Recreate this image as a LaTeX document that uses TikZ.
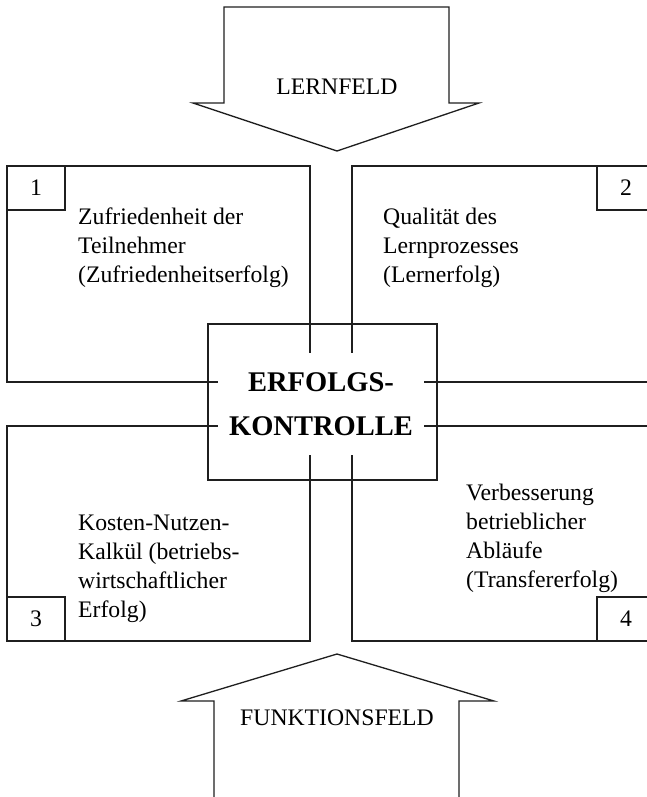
\documentclass[tikz,border=0pt]{standalone}
\usepackage{fontspec}
\setmainfont{Liberation Serif}
\begin{document}
\begin{tikzpicture}[x=1pt,y=-1pt,
  frame/.style={draw=black!88, line width=1.3pt, line join=miter},
  box/.style={frame, rectangle, inner sep=0pt, outer sep=0pt, anchor=north west},
  numbox/.style={frame, rectangle, inner sep=0pt, outer sep=0pt, minimum width=58pt, minimum height=44pt, font=\fontsize{23.7}{29}\selectfont},
  body/.style={font=\fontsize{23.7}{29}\selectfont, align=left, inner sep=0pt, anchor=west},
  lbl/.style={font=\fontsize{23.7}{29}\selectfont, inner sep=0pt}]
\useasboundingbox (0,0) rectangle (647,797);
\clip (0,0) rectangle (647,797);
\fill[white] (0,0) rectangle (647,797);

% top arrow
\draw[frame] (224,7) -- (449,7) -- (449,103) -- (479,103) -- (337,151) -- (193,103) -- (224,103) -- cycle;
\node[lbl] (lern) at (337,87) {LERNFELD};

% four boxes
\node[box, minimum width=303pt, minimum height=216pt] (b1) at (7,166) {};
\node[box, minimum width=303pt, minimum height=216pt] (b2) at (352,166) {};
\node[box, minimum width=303pt, minimum height=215pt] (b3) at (7,426) {};
\node[box, minimum width=303pt, minimum height=215pt] (b4) at (352,426) {};

\node[numbox, anchor=north west] (n1) at (b1.north west) {1};
\node[numbox, anchor=north west] (n2) at (597,166) {2};
\node[numbox, anchor=south west] (n3) at (b3.south west) {3};
\node[numbox, anchor=south west] (n4) at (597,641) {4};

\node[body] (t1) at (78,248) {Zufriedenheit der\\Teilnehmer\\(Zufriedenheitserfolg)};
\node[body] (t2) at (383,248) {Qualität des\\Lernprozesses\\(Lernerfolg)};
\node[body] (t3) at (78,569) {Kosten-Nutzen-\\Kalkül (betriebs-\\wirtschaftlicher\\Erfolg)};
\node[body] (t4) at (466,538) {Verbesserung\\betrieblicher\\Abläufe\\(Transfererfolg)};

% centre box
\node[box, minimum width=229pt, minimum height=156pt] (ctr) at (208,324) {};
\node[fill=white, inner sep=0pt, minimum width=206pt, minimum height=102pt, align=center,
      font=\fontsize{28.5}{44}\selectfont\bfseries] (ek) at (321,404) {ERFOLGS-\\KONTROLLE};

% bottom arrow
\draw[frame] (214,805) -- (214,701) -- (181,701) -- (337,654) -- (494,701) -- (459,701) -- (459,805);
\node[lbl] (funk) at (337,718) {FUNKTIONSFELD};
\end{tikzpicture}
\end{document}
